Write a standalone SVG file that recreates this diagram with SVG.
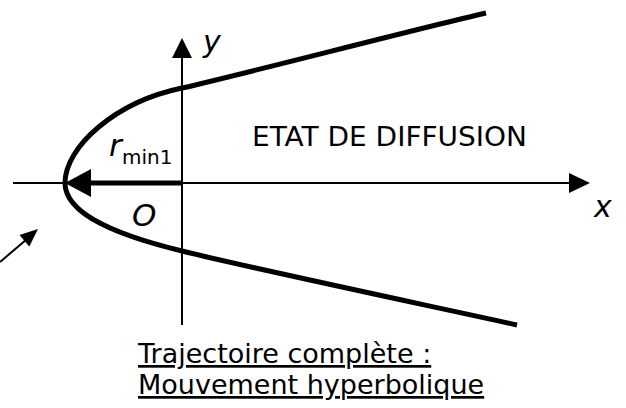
<svg xmlns="http://www.w3.org/2000/svg" width="626" height="408" viewBox="0 0 626 408">
<style>
.ax{stroke:#000;stroke-width:2;fill:none}
.cv{stroke:#000;stroke-width:5;fill:none;stroke-linecap:butt}
.t{font-family:"DejaVu Sans",Verdana,sans-serif;fill:#000}
.it{font-style:italic}
</style>
<rect width="626" height="408" fill="#fff"/>
<g id="connectors">
<line class="ax" x1="13" y1="183" x2="572" y2="183"/>
<polygon points="590,183 569,173 569,193"/>
<line class="ax" x1="182" y1="325" x2="182" y2="56"/>
<polygon points="182,38 172,58 192,58"/>
<path class="cv" d="M486,13 C420,28 240,75 182,88 C115,102 65,147 65,183 C65,215 120,236 182,251 C250,268 440,308 517,325"/>
<line stroke="#000" stroke-width="5" x1="182" y1="183" x2="88" y2="183"/>
<polygon points="65,183 91,169 91,197"/>
<line class="ax" x1="0" y1="262" x2="27" y2="239"/>
<polygon points="38,229 19.5,235.1 29.3,246.5"/>
</g>
<g id="labels">
<text class="t it" x="203" y="52" font-size="30">y</text>
<text class="t it" x="594" y="217" font-size="30">x</text>
<text class="t it" x="132" y="226" font-size="31">O</text>
<text class="t it" x="109" y="156" font-size="31">r</text>
<text class="t" x="122" y="164" font-size="20">min1</text>
<text class="t" x="252" y="146" font-size="27" textLength="275" lengthAdjust="spacingAndGlyphs">ETAT DE DIFFUSION</text>
<text class="t" x="138" y="363" font-size="27" text-decoration="underline">Trajectoire complète :</text>
<text class="t" x="138" y="394" font-size="27" text-decoration="underline">Mouvement hyperbolique</text>
</g>
</svg>
